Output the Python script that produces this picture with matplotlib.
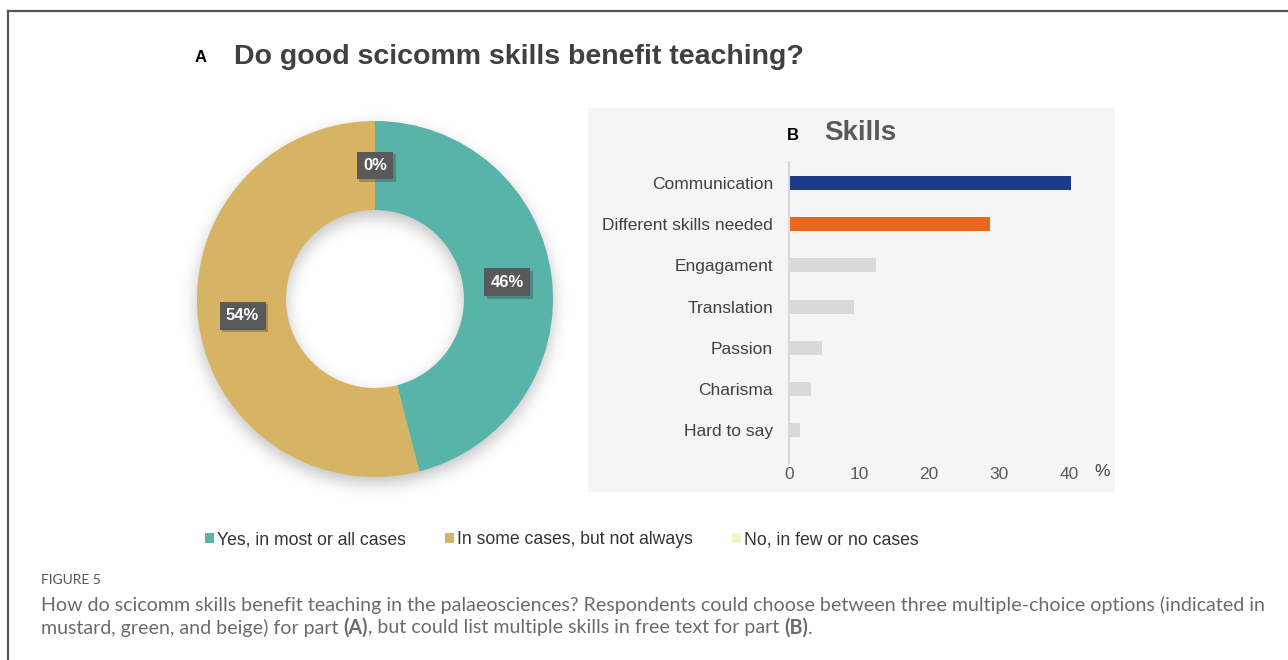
import numpy as np
import matplotlib
matplotlib.use("Agg")
import matplotlib.pyplot as plt
from matplotlib import font_manager
from matplotlib import patheffects as pe
from matplotlib.patches import Rectangle, Patch
from matplotlib.lines import Line2D

W, H = 1288, 660

# part A: donut shares
answer_labels = ["Yes, in most or all cases", "In some cases, but not always", "No, in few or no cases"]
answer_share = [46, 54, 0]
answer_colors = ["#58b3a9", "#d7b364", "#f7f3cb"]

# part B: skills named in free text (% of respondents)
skills = ["Communication", "Different skills needed", "Engagament", "Translation",
          "Passion", "Charisma", "Hard to say"]
skill_pct = [40.3, 28.7, 12.4, 9.3, 4.7, 3.1, 1.6]
skill_colors = ["#1c3a87", "#ea681c", "#d9d9d9", "#d9d9d9", "#d9d9d9", "#d9d9d9", "#d9d9d9"]
x_ticks = [0, 10, 20, 30, 40]

caption_1 = ("How do scicomm skills benefit teaching in the palaeosciences? Respondents could "
             "choose between three multiple-choice options (indicated in")
caption_2 = [("mustard, green, and beige) for part ", "normal"), ("(A)", "bold"),
             (", but could list multiple skills in free text for part ", "normal"),
             ("(B)", "bold"), (".", "normal")]

SANS = "Liberation Sans"


def pick_font(names):
    for n in names:
        try:
            font_manager.findfont(n, fallback_to_default=False)
            return n
        except Exception:
            pass
    return "DejaVu Sans"


CAP_FONT = pick_font(["Liberation Sans Narrow", "Lato", "Open Sans"])


def fx(px):
    return px / W


def fy(py):
    return 1 - py / H


fig = plt.figure(figsize=(W / 100, H / 100), dpi=100)
fig.patch.set_facecolor("white")

# frame on left and top
fig.add_artist(Line2D([fx(7.5), fx(7.5)], [0, fy(10.5)], color="#555555", lw=1.6))
fig.add_artist(Line2D([fx(7.5), 1], [fy(10.5), fy(10.5)], color="#555555", lw=1.6))

# ---- panel A ----
fig.text(fx(195), fy(58), "A", fontsize=12, fontweight="bold", family=SANS, color="black", va="center")
fig.text(fx(234), fy(57), "Do good scicomm skills benefit teaching?", fontsize=20.5,
         fontweight="bold", family=SANS, color="#404040", va="center")

cx, cy, R = 375, 299, 178
lim = 1.2
side = 2 * R * lim
axA = fig.add_axes([fx(cx - side / 2), fy(cy + side / 2), side / W, side / H])
axA.axis("off")

# soft drop shadow under the ring
n = 480
g = np.linspace(-lim, lim, n)
xx, yy = np.meshgrid(g, g)
rr = np.hypot(xx, yy + 0.035)
ring = ((rr <= 1.0) & (rr >= 0.5)).astype(float)
sig = 0.045 / (2 * lim / n)
k = np.arange(-int(4 * sig), int(4 * sig) + 1)
kern = np.exp(-0.5 * (k / sig) ** 2)
kern /= kern.sum()
blur = np.apply_along_axis(lambda r: np.convolve(r, kern, mode="same"), 1, ring)
blur = np.apply_along_axis(lambda c: np.convolve(c, kern, mode="same"), 0, blur)
shadow = np.zeros((n, n, 4))
shadow[..., 3] = blur * 0.25
axA.imshow(shadow, extent=(-lim, lim, -lim, lim), origin="lower", zorder=0, interpolation="bilinear")

wedges, _ = axA.pie(answer_share, colors=answer_colors, startangle=90, counterclock=False,
                    radius=1, wedgeprops=dict(width=0.5, linewidth=0), normalize=True)
for w in wedges:
    w.set_zorder(2)
axA.set_xlim(-lim, lim)
axA.set_ylim(-lim, lim)
axA.set_aspect("equal")

for w, v in zip(wedges, answer_share):
    ang = np.deg2rad((w.theta1 + w.theta2) / 2)
    x, y = 0.75 * np.cos(ang), 0.75 * np.sin(ang)
    t = axA.text(x, y, f"{v}%", ha="center", va="center", fontsize=12, fontweight="bold",
                 family=SANS, color="white", zorder=4,
                 bbox=dict(boxstyle="square,pad=0.38", fc="#595959", ec="none"))
    t.get_bbox_patch().set_path_effects([pe.SimplePatchShadow(offset=(1.8, -1.8), alpha=0.25),
                                         pe.Normal()])

# ---- panel B ----
fig.add_artist(Rectangle((fx(588), fy(492)), (1115 - 588) / W, (492 - 108) / H,
                         transform=fig.transFigure, fc="#f5f5f5", ec="none", zorder=0))
fig.text(fx(787), fy(136), "B", fontsize=12, fontweight="bold", family=SANS, color="black", va="center")
fig.text(fx(824), fy(133), "Skills", fontsize=20, fontweight="bold", family=SANS,
         color="#595959", va="center")

px_per_unit = 7.0
x_max = 44
top_px, bot_px = 162.4, 463
axB = fig.add_axes([fx(789), fy(bot_px), px_per_unit * x_max / W, (bot_px - top_px) / H])
axB.set_facecolor("none")
ypos = np.arange(len(skills))
axB.barh(ypos, skill_pct, height=0.34, color=skill_colors, zorder=2)
axB.set_xlim(0, x_max)
axB.set_ylim(6.8, -0.5)
axB.set_yticks(ypos)
axB.set_yticklabels(skills, fontsize=12.5, family=SANS, color="#404040")
axB.set_xticks(x_ticks)
axB.set_xticklabels([str(t) for t in x_ticks], fontsize=12.5, family=SANS, color="#595959")
axB.tick_params(axis="both", length=0)
axB.tick_params(axis="y", pad=11.5)
axB.tick_params(axis="x", pad=3)
for s in ["top", "right", "bottom"]:
    axB.spines[s].set_visible(False)
axB.spines["left"].set_color("#d9d9d9")
axB.spines["left"].set_linewidth(1.5)
fig.text(fx(1102), fy(472), "%", fontsize=12.5, family=SANS, color="#404040", ha="center", va="center")

# ---- legend ----
handles = [Patch(facecolor=c, edgecolor="none") for c in answer_colors]
fig.legend(handles, answer_labels, loc="center", bbox_to_anchor=(fx(562), fy(540)), ncol=3,
           frameon=False, handlelength=0.5, handleheight=0.5, handletextpad=0.2,
           columnspacing=2.2, prop=dict(family=SANS, size=12.7), labelcolor="#333333")

# ---- caption ----
fig.text(fx(41), fy(580), "FIGURE 5", fontsize=10, family=CAP_FONT, color="#555555", va="center")
t1 = fig.text(fx(41), fy(605), caption_1, fontsize=12, family=CAP_FONT, color="#6b6b6b", va="center")
r = fig.canvas.get_renderer()
wpx = t1.get_window_extent(r).width
cap_size = 12 * (1258 - 41) / wpx
t1.set_fontsize(cap_size)

x0 = 41
for s, wt in caption_2:
    t = fig.text(fx(x0), fy(628), s, fontsize=cap_size, fontweight=wt, family=CAP_FONT,
                 color="#6b6b6b", va="center")
    x0 += t.get_window_extent(r).width

fig.savefig("out.png", dpi=100, facecolor="white")
